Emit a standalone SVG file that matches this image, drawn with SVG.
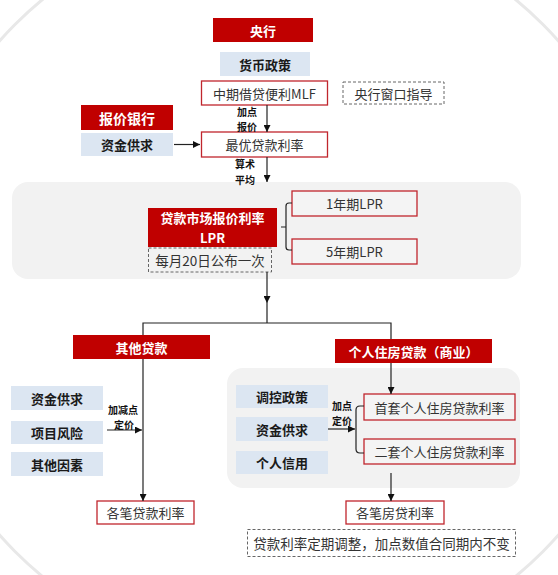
<svg xmlns="http://www.w3.org/2000/svg" width="558" height="575" viewBox="0 0 558 575">
<defs>
<marker id="ah" viewBox="0 0 10 10" refX="10" refY="5" markerWidth="7" markerHeight="7" markerUnits="userSpaceOnUse" orient="auto">
<path d="M0,0 L10,5 L0,10 z" fill="#111"/>
</marker>
<style>
text{font-family:"Noto Sans CJK SC","Noto Sans",sans-serif;dominant-baseline:central;text-anchor:middle}
.red{fill:#c00000}
.redt{fill:#fff;font-weight:bold;font-size:13px}
.blue{fill:#dce6f2}
.bluet{fill:#1a1a1a;font-weight:bold;font-size:13px}
.box{fill:#fff;stroke:#c0262d;stroke-width:1.3}
.boxg{fill:#f4f4f4;stroke:#c0262d;stroke-width:1.3}
.t{fill:#333;font-size:13px}
.dash{fill:none;stroke:#666;stroke-width:1;stroke-dasharray:3,2}
.lbl{fill:#111;font-weight:bold;font-size:10px}
.ln{fill:none;stroke:#222;stroke-width:1.2}
.panel{fill:#f2f2f2}
</style>
</defs>
<rect width="558" height="575" fill="#fff"/>
<circle cx="279" cy="288" r="373" fill="none" stroke="#e8e8e8" stroke-width="3"/>
<rect class="panel" x="12" y="182" width="509" height="97" rx="16"/>
<rect class="panel" x="227" y="368" width="293" height="120" rx="16"/>

<g id="central-bank"><rect class="red" x="213" y="18" width="100" height="24"/><text class="redt" x="263" y="30">央行</text></g>
<g id="monetary-policy"><rect class="blue" x="220" y="52" width="90" height="24"/><text class="bluet" x="265" y="64">货币政策</text></g>
<g id="mlf"><rect class="box" x="201.5" y="81" width="126" height="24"/><text class="t" x="264.5" y="93">中期借贷便利MLF</text></g>
<g id="window-guidance"><rect class="dash" x="343" y="82" width="101" height="22"/><text class="t" x="393.5" y="93">央行窗口指导</text></g>
<g id="quote-bank"><rect class="red" x="81" y="105" width="92" height="25"/><text class="redt" x="127" y="117.5" style="font-size:14px">报价银行</text></g>
<g id="supply-demand-1"><rect class="blue" x="81" y="133" width="92" height="23"/><text class="bluet" x="127" y="144.5">资金供求</text></g>
<g id="prime-rate"><rect class="box" x="201.5" y="132" width="126" height="25"/><text class="t" x="264.5" y="144.5">最优贷款利率</text></g>

<g id="lpr"><rect class="red" x="148" y="208" width="129" height="39"/><text class="redt" x="212.5" y="217">贷款市场报价利率<tspan x="212.5" y="236.5">LPR</tspan></text></g>
<g id="monthly"><rect class="dash" x="148.5" y="248" width="123" height="24" style="fill:#f2f2f2"/><text class="t" x="210" y="260" style="font-size:13.5px">每月20日公布一次</text></g>
<g id="lpr-1y"><rect class="boxg" x="292" y="191" width="125" height="25"/><text class="t" x="354.5" y="203.5">1年期LPR</text></g>
<g id="lpr-5y"><rect class="boxg" x="292" y="239" width="125" height="25"/><text class="t" x="354.5" y="251.5">5年期LPR</text></g>

<g id="other-loans"><rect class="red" x="73" y="335" width="137" height="24"/><text class="redt" x="141.5" y="347">其他贷款</text></g>
<g id="housing-loans"><rect class="red" x="335" y="339" width="157" height="24"/><text class="redt" x="413.5" y="351">个人住房贷款（商业）</text></g>

<g id="supply-demand-2"><rect class="blue" x="11" y="386" width="92" height="24"/><text class="bluet" x="57" y="398">资金供求</text></g>
<g id="project-risk"><rect class="blue" x="11" y="421" width="92" height="23"/><text class="bluet" x="57" y="432.5">项目风险</text></g>
<g id="other-factors"><rect class="blue" x="11" y="452" width="92" height="24"/><text class="bluet" x="57" y="464">其他因素</text></g>
<g id="loan-rate"><rect class="box" x="97" y="501" width="97" height="23"/><text class="t" x="145.5" y="512.5">各笔贷款利率</text></g>

<g id="control-policy"><rect class="blue" x="236" y="385" width="92" height="23"/><text class="bluet" x="282" y="396.5">调控政策</text></g>
<g id="supply-demand-3"><rect class="blue" x="236" y="417" width="92" height="24"/><text class="bluet" x="282" y="429">资金供求</text></g>
<g id="personal-credit"><rect class="blue" x="236" y="451" width="92" height="23"/><text class="bluet" x="282" y="462.5">个人信用</text></g>
<g id="first-home"><rect class="boxg" x="364" y="394" width="151" height="26"/><text class="t" x="439.5" y="407">首套个人住房贷款利率</text></g>
<g id="second-home"><rect class="boxg" x="364" y="439" width="151" height="25"/><text class="t" x="439.5" y="451.5">二套个人住房贷款利率</text></g>
<g id="mortgage-rate"><rect class="box" x="346" y="501" width="98" height="23"/><text class="t" x="395" y="512.5">各笔房贷利率</text></g>
<g id="note"><rect class="dash" x="247.5" y="529.5" width="268" height="27"/><text class="t" x="381.5" y="543" style="font-size:13.5px">贷款利率定期调整，加点数值合同期内不变</text></g>

<g id="connectors">
<line class="ln" x1="267" y1="105" x2="267" y2="132" marker-end="url(#ah)"/>
<text class="lbl" x="247" y="111">加点<tspan x="247" y="126">报价</tspan></text>
<line class="ln" x1="174" y1="144.5" x2="200" y2="144.5" marker-end="url(#ah)"/>
<line class="ln" x1="267" y1="157" x2="267" y2="182" marker-end="url(#ah)"/>
<text class="lbl" x="245" y="163.5">算术<tspan x="245" y="178.5">平均</tspan></text>
<path class="ln" d="M292,203 H289 Q286,203 286,206 V247 Q286,250 289,250 H292 M286,227 H281"/>
<line class="ln" x1="267" y1="272" x2="267" y2="303" marker-end="url(#ah)"/>
<path class="ln" d="M267,303 V323 M143,335 V323 H391 V339"/>
<line class="ln" x1="143" y1="359" x2="143" y2="501" marker-end="url(#ah)"/>
<line class="ln" x1="107" y1="430" x2="142" y2="430" marker-end="url(#ah)"/>
<text class="lbl" x="123" y="409">加减点<tspan x="124" y="424">定价</tspan></text>
<line class="ln" x1="391" y1="363" x2="391" y2="394" marker-end="url(#ah)"/>
<line class="ln" x1="328" y1="429" x2="355" y2="429" marker-end="url(#ah)"/>
<text class="lbl" x="342" y="405">加点<tspan x="342" y="420">定价</tspan></text>
<path class="ln" d="M364,406 H360 Q356,406 356,410 V449 Q356,453 360,453 H364"/>
<line class="ln" x1="391" y1="473" x2="391" y2="501" marker-end="url(#ah)"/>
</g>
</svg>
